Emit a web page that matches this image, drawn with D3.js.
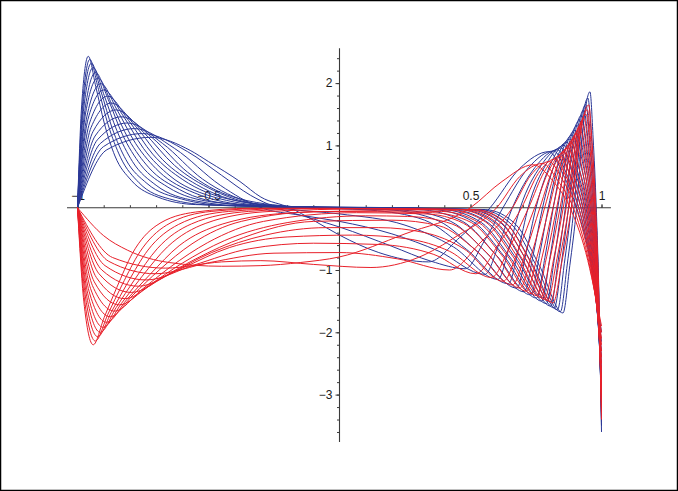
<!DOCTYPE html>
<html>
<head>
<meta charset="utf-8">
<script src="https://cdn.jsdelivr.net/npm/d3@7"></script>
<style>
  html, body { margin: 0; padding: 0; background: #fff; }
  svg { display: block; }
  .tick text { font-family: "Liberation Sans", Arial, Helvetica, sans-serif; font-size: 12px; fill: #1a1a1a; }
</style>
</head>
<body>
<script>
// blue family, sharpest first: [x, y] points
var blueCurves = [
  [[-1,0],[-0.984,1.65],[-0.959,2.43],[-0.930,1.94],[-0.898,1.36],[-0.857,0.83],[-0.795,0.44],[-0.693,0.17],[-0.549,0.05],[0.556,-0.03],[0.673,-0.27],[0.763,-0.93],[0.853,-1.69],[0.879,-0.93],[0.905,0],[0.930,1.30],[0.956,1.86],[0.968,1.12],[0.980,0],[0.990,-1.37],[1,-3.6]],
  [[-1,0],[-0.981,1.64],[-0.953,2.38],[-0.920,1.90],[-0.883,1.33],[-0.836,0.81],[-0.765,0.40],[-0.648,0.14],[-0.483,0.04],[0.536,-0.03],[0.657,-0.27],[0.750,-0.92],[0.843,-1.67],[0.869,-0.92],[0.895,0],[0.921,1.23],[0.948,1.76],[0.963,1.06],[0.978,0],[0.989,-1.33],[1,-3.5]],
  [[-1,0],[-0.979,1.62],[-0.947,2.32],[-0.910,1.86],[-0.868,1.28],[-0.815,0.77],[-0.735,0.39],[-0.603,0.14],[-0.417,0.03],[0.512,-0.03],[0.638,-0.26],[0.735,-0.90],[0.832,-1.64],[0.858,-0.90],[0.885,0],[0.912,1.16],[0.940,1.66],[0.957,1.00],[0.975,0],[0.987,-1.29],[1,-3.4]],
  [[-1,0],[-0.976,1.60],[-0.940,2.25],[-0.898,1.80],[-0.850,1.24],[-0.790,0.74],[-0.700,0.36],[-0.550,0.11],[-0.340,0.02],[0.490,-0.03],[0.620,-0.26],[0.720,-0.89],[0.820,-1.61],[0.847,-0.89],[0.874,0],[0.903,1.10],[0.932,1.57],[0.952,0.94],[0.972,0],[0.986,-1.25],[1,-3.3]],
  [[-1,0],[-0.972,1.56],[-0.931,2.17],[-0.883,1.74],[-0.828,1.17],[-0.759,0.69],[-0.655,0.33],[-0.483,0.09],[-0.241,0.02],[0.459,-0.03],[0.596,-0.25],[0.701,-0.87],[0.806,-1.58],[0.834,-0.87],[0.862,0],[0.892,1.04],[0.923,1.48],[0.946,0.89],[0.969,0],[0.984,-1.22],[1,-3.2]],
  [[-1,0],[-0.969,1.52],[-0.922,2.08],[-0.867,1.64],[-0.805,1.10],[-0.727,0.64],[-0.610,0.29],[-0.415,0.06],[-0.142,0.01],[0.427,-0.03],[0.570,-0.25],[0.680,-0.85],[0.790,-1.54],[0.819,-0.85],[0.848,0],[0.881,0.98],[0.915,1.40],[0.940,0.84],[0.965,0],[0.982,-1.18],[1,-3.1]],
  [[-1,0],[-0.964,1.47],[-0.911,1.99],[-0.849,1.57],[-0.778,1.03],[-0.689,0.58],[-0.555,0.24],[-0.333,0.04],[0.050,0],[0.392,-0.03],[0.542,-0.24],[0.657,-0.83],[0.772,-1.50],[0.802,-0.83],[0.833,0],[0.870,0.92],[0.907,1.32],[0.934,0.79],[0.961,0],[0.980,-1.14],[1,-3.0]],
  [[-1,0],[-0.960,1.42],[-0.899,1.89],[-0.828,1.49],[-0.748,0.95],[-0.647,0.51],[-0.495,0.19],[-0.243,0.02],[0.356,-0.03],[0.512,-0.23],[0.632,-0.80],[0.752,-1.45],[0.784,-0.80],[0.816,0],[0.857,0.87],[0.898,1.24],[0.927,0.74],[0.957,0],[0.978,-1.10],[1,-2.9]],
  [[-1,0],[-0.954,1.36],[-0.885,1.79],[-0.805,1.40],[-0.713,0.86],[-0.598,0.45],[-0.425,0.14],[-0.138,0],[0.301,-0.03],[0.470,-0.22],[0.600,-0.77],[0.730,-1.40],[0.763,-0.77],[0.797,0],[0.843,0.82],[0.889,1.17],[0.920,0.70],[0.952,0],[0.976,-1.06],[1,-2.8]],
  [[-1,0],[-0.948,1.29],[-0.870,1.68],[-0.779,1.31],[-0.675,0.77],[-0.545,0.37],[-0.350,0.08],[-0.025,-0.01],[0.243,-0.04],[0.425,-0.22],[0.565,-0.74],[0.705,-1.35],[0.740,-0.74],[0.775,0],[0.827,0.77],[0.879,1.10],[0.913,0.66],[0.947,0],[0.973,-1.03],[1,-2.7]],
  [[-1,0],[-0.941,1.22],[-0.852,1.57],[-0.748,1.21],[-0.630,0.68],[-0.482,0.28],[-0.260,0.03],[0.180,-0.03],[0.377,-0.21],[0.527,-0.71],[0.677,-1.29],[0.713,-0.71],[0.750,0],[0.810,0.74],[0.869,1.05],[0.905,0.63],[0.941,0],[0.970,-0.99],[1,-2.6]],
  [[-1,0],[-0.933,1.15],[-0.832,1.46],[-0.714,1.12],[-0.580,0.57],[-0.412,0.18],[-0.160,0.01],[0.120,-0.04],[0.325,-0.20],[0.485,-0.67],[0.645,-1.22],[0.683,-0.67],[0.720,0],[0.789,0.70],[0.858,1.00],[0.897,0.60],[0.935,0],[0.968,-0.95],[1,-2.5]],
  [[-1,0],[-0.924,1.09],[-0.809,1.36],[-0.675,1.03],[-0.523,0.46],[-0.331,0.07],[-0.200,-0.02],[0,-0.10],[0.250,-0.28],[0.435,-0.63],[0.605,-1.15],[0.648,-0.63],[0.690,0],[0.768,0.67],[0.846,0.96],[0.887,0.58],[0.928,0],[0.964,-0.91],[1,-2.4]],
  [[-1,0],[-0.913,1.03],[-0.782,1.27],[-0.629,0.95],[-0.455,0.36],[-0.300,0],[-0.150,-0.12],[0,-0.22],[0.200,-0.42],[0.380,-0.70],[0.555,-1.07],[0.608,-0.59],[0.660,0],[0.747,0.65],[0.833,0.93],[0.877,0.56],[0.921,0],[0.961,-0.87],[1,-2.3]],
  [[-1,0],[-0.901,0.98],[-0.752,1.19],[-0.580,0.90],[-0.450,0.52],[-0.340,0.20],[-0.240,0],[-0.100,-0.18],[0,-0.31],[0.200,-0.62],[0.350,-0.86],[0.480,-0.98],[0.552,-0.54],[0.624,0],[0.721,0.64],[0.818,0.91],[0.866,0.55],[0.913,0],[0.957,-0.82],[1,-2.15]],
  [[-1,0],[-0.888,0.93],[-0.720,1.13],[-0.570,0.92],[-0.500,0.74],[-0.380,0.42],[-0.300,0.17],[-0.190,0],[-0.100,-0.20],[0,-0.44],[0.150,-0.72],[0.340,-0.87],[0.458,-0.48],[0.575,0],[0.688,0.63],[0.800,0.90],[0.853,0.54],[0.905,0],[0.953,-0.76],[1,-2.0]]
];

// red family, sharpest first
var redCurves = [
  [[-1,0],[-0.976,-1.50],[-0.940,-2.20],[-0.898,-1.76],[-0.850,-1.28],[-0.790,-0.73],[-0.700,-0.29],[-0.550,-0.07],[-0.340,-0.01],[0.518,-0.03],[0.635,-0.24],[0.725,-0.84],[0.815,-1.53],[0.850,-0.84],[0.885,0],[0.918,1.16],[0.951,1.65],[0.965,0.99],[0.978,0],[0.989,-1.29],[1,-3.4]],
  [[-1,0],[-0.973,-1.48],[-0.932,-2.14],[-0.884,-1.71],[-0.830,-1.24],[-0.762,-0.71],[-0.660,-0.28],[-0.490,-0.06],[-0.250,-0.01],[0.498,-0.03],[0.619,-0.24],[0.712,-0.83],[0.805,-1.51],[0.840,-0.83],[0.875,0],[0.911,1.10],[0.946,1.57],[0.961,0.94],[0.975,0],[0.988,-1.25],[1,-3.3]],
  [[-1,0],[-0.969,-1.45],[-0.923,-2.07],[-0.869,-1.66],[-0.808,-1.20],[-0.731,-0.68],[-0.615,-0.27],[-0.423,-0.06],[-0.153,-0.01],[0.474,-0.03],[0.600,-0.24],[0.697,-0.82],[0.794,-1.49],[0.830,-0.82],[0.865,0],[0.903,1.05],[0.941,1.50],[0.957,0.90],[0.972,0],[0.986,-1.22],[1,-3.2]],
  [[-1,0],[-0.965,-1.42],[-0.913,-2.00],[-0.852,-1.60],[-0.783,-1.16],[-0.696,-0.66],[-0.565,-0.26],[-0.348,-0.06],[-0.050,-0.01],[0.452,-0.03],[0.582,-0.24],[0.682,-0.81],[0.782,-1.47],[0.818,-0.81],[0.854,0],[0.894,1.00],[0.934,1.43],[0.951,0.86],[0.968,0],[0.984,-1.18],[1,-3.1]],
  [[-1,0],[-0.961,-1.38],[-0.902,-1.92],[-0.833,-1.54],[-0.755,-1.11],[-0.657,-0.63],[-0.510,-0.25],[-0.265,-0.06],[0.100,-0.02],[0.421,-0.04],[0.558,-0.23],[0.663,-0.79],[0.768,-1.44],[0.805,-0.79],[0.842,0],[0.884,0.95],[0.926,1.35],[0.945,0.81],[0.964,0],[0.982,-1.14],[1,-3.0]],
  [[-1,0],[-0.956,-1.34],[-0.889,-1.84],[-0.811,-1.47],[-0.723,-1.07],[-0.612,-0.61],[-0.445,-0.26],[-0.168,-0.08],[0.150,-0.05],[0.389,-0.06],[0.532,-0.24],[0.642,-0.78],[0.752,-1.41],[0.791,-0.78],[0.829,0],[0.874,0.89],[0.918,1.27],[0.939,0.76],[0.960,0],[0.980,-1.10],[1,-2.9]],
  [[-1,0],[-0.950,-1.30],[-0.875,-1.75],[-0.788,-1.40],[-0.688,-1.00],[-0.563,-0.58],[-0.375,-0.22],[-0.063,-0.06],[0.354,-0.08],[0.504,-0.24],[0.619,-0.76],[0.734,-1.38],[0.775,-0.76],[0.815,0],[0.862,0.83],[0.908,1.19],[0.932,0.71],[0.955,0],[0.978,-1.06],[1,-2.8]],
  [[-1,0],[-0.943,-1.25],[-0.858,-1.66],[-0.759,-1.33],[-0.645,-0.95],[-0.503,-0.56],[-0.290,-0.22],[0.065,-0.08],[0.330,-0.10],[0.473,-0.25],[0.593,-0.74],[0.713,-1.34],[0.757,-0.74],[0.800,0],[0.849,0.78],[0.898,1.11],[0.924,0.67],[0.950,0],[0.975,-1.03],[1,-2.7]],
  [[-1,0],[-0.936,-1.19],[-0.840,-1.56],[-0.728,-1.25],[-0.600,-0.89],[-0.440,-0.53],[-0.200,-0.24],[0.100,-0.13],[0.260,-0.14],[0.429,-0.26],[0.559,-0.71],[0.689,-1.29],[0.736,-0.71],[0.783,0],[0.835,0.72],[0.886,1.03],[0.915,0.62],[0.944,0],[0.972,-0.99],[1,-2.6]],
  [[-1,0],[-0.928,-1.12],[-0.819,-1.46],[-0.692,-1.16],[-0.548,-0.82],[-0.367,-0.48],[-0.100,-0.22],[0.200,-0.20],[0.380,-0.29],[0.520,-0.68],[0.660,-1.24],[0.713,-0.68],[0.765,0],[0.819,0.67],[0.873,0.96],[0.905,0.58],[0.937,0],[0.969,-0.95],[1,-2.5]],
  [[-1,0],[-0.918,-1.06],[-0.795,-1.36],[-0.652,-1.07],[-0.488,-0.72],[-0.283,-0.44],[-0.050,-0.32],[0.150,-0.32],[0.325,-0.40],[0.475,-0.66],[0.625,-1.18],[0.685,-0.65],[0.745,0],[0.802,0.62],[0.858,0.89],[0.894,0.53],[0.930,0],[0.965,-0.91],[1,-2.4]],
  [[-1,0],[-0.907,-1.00],[-0.768,-1.26],[-0.606,-0.98],[-0.420,-0.64],[-0.200,-0.47],[0.050,-0.44],[0.260,-0.50],[0.420,-0.70],[0.580,-1.12],[0.651,-0.62],[0.722,0],[0.782,0.58],[0.841,0.83],[0.882,0.50],[0.922,0],[0.961,-0.87],[1,-2.3]],
  [[-1,0],[-0.895,-0.93],[-0.738,-1.16],[-0.555,-0.92],[-0.345,-0.66],[-0.100,-0.57],[0.150,-0.59],[0.360,-0.75],[0.520,-1.06],[0.608,-0.58],[0.695,0],[0.759,0.55],[0.822,0.78],[0.868,0.47],[0.913,0],[0.957,-0.84],[1,-2.2]],
  [[-1,0],[-0.881,-0.86],[-0.703,-1.06],[-0.495,-0.88],[-0.250,-0.73],[0,-0.72],[0.220,-0.82],[0.420,-1.00],[0.540,-0.55],[0.660,0],[0.730,0.52],[0.800,0.74],[0.852,0.44],[0.903,0],[0.952,-0.80],[1,-2.1]],
  [[-1,0],[-0.866,-0.80],[-0.665,-0.97],[-0.450,-0.87],[-0.300,-0.85],[-0.100,-0.91],[0.120,-0.96],[0.300,-0.80],[0.450,-0.45],[0.600,0],[0.688,0.50],[0.775,0.71],[0.834,0.43],[0.892,0],[0.946,-0.76],[1,-2.0]],
  [[-1,0],[-0.900,-0.45],[-0.810,-0.68],[-0.650,-0.88],[-0.450,-0.94],[-0.300,-0.93],[-0.150,-0.88],[0,-0.79],[0.250,-0.42],[0.500,0],[0.620,0.42],[0.740,0.69],[0.810,0.45],[0.880,0],[0.940,-0.72],[1,-1.9]]
];

var xMajor = [-1, -0.5, 0.5, 1];
var xLabels = ['\u22121', '\u22120.5', '0.5', '1'];
var xMinor = d3.range(-10, 11).map(function(i) { return i / 10; });
var yMajor = [-3, -2, -1, 1, 2];
var yLabels = ['\u22123', '\u22122', '\u22121', '1', '2'];
var yMinor = d3.range(-18, 13).map(function(i) { return i / 5; });

var width = 678,
    height = 491;

var svg = d3.select('body').append('svg')
    .attr('width', width)
    .attr('height', height);

svg.append('rect')
    .attr('x', 0.5).attr('y', 0.5)
    .attr('width', width - 1).attr('height', height - 1)
    .attr('fill', '#fff')
    .attr('stroke', '#000')
    .attr('stroke-width', 1.5);

var x = d3.scaleLinear().domain([-1, 1]).range([77.5, 601.5]);
var y = d3.scaleLinear().domain([-3, 2]).range([394.6, 83.1]);

var line = d3.line()
    .x(function(d) { return x(d[0]); })
    .y(function(d) { return y(d[1]); })
    .curve(d3.curveMonotoneX);

// axes lines
var axisColor = '#3a3a3a';
svg.append('line')
    .attr('x1', x(-1.04)).attr('x2', x(1.036))
    .attr('y1', y(0)).attr('y2', y(0))
    .attr('stroke', axisColor).attr('stroke-width', 1.1);
svg.append('line')
    .attr('x1', x(0)).attr('x2', x(0))
    .attr('y1', y(2.56)).attr('y2', y(-3.76))
    .attr('stroke', axisColor).attr('stroke-width', 1.1);

// x ticks (upward) and labels
svg.append('g')
    .attr('transform', 'translate(0,' + y(0) + ')')
    .attr('color', axisColor)
    .call(d3.axisTop(x).tickValues(xMinor.filter(function(d) { return d !== 0; })).tickSize(2.5).tickFormat(''))
    .call(function(g) { g.select('.domain').remove(); });
svg.append('g')
    .attr('transform', 'translate(0,' + y(0) + ')')
    .attr('color', axisColor)
    .call(d3.axisTop(x).tickValues(xMajor).tickSize(3.5).tickPadding(4)
        .tickFormat(function(d) { return xLabels[xMajor.indexOf(d)]; }))
    .call(function(g) { g.select('.domain').remove(); });

// y ticks (leftward) and labels
svg.append('g')
    .attr('transform', 'translate(' + x(0) + ',0)')
    .attr('color', axisColor)
    .call(d3.axisLeft(y).tickValues(yMinor.filter(function(d) { return d !== 0; })).tickSize(2.5).tickFormat(''))
    .call(function(g) { g.select('.domain').remove(); });
svg.append('g')
    .attr('transform', 'translate(' + x(0) + ',0)')
    .attr('color', axisColor)
    .call(d3.axisLeft(y).tickValues(yMajor).tickSize(4).tickPadding(3)
        .tickFormat(function(d) { return yLabels[yMajor.indexOf(d)]; }))
    .call(function(g) { g.select('.domain').remove(); });

svg.selectAll('.tick text').attr('fill', '#1a1a1a');

// curve families
svg.append('g')
    .selectAll('path')
    .data(blueCurves)
    .join('path')
    .attr('d', line)
    .attr('fill', 'none')
    .attr('stroke', '#2a3796')
    .attr('stroke-width', 1);

svg.append('g')
    .selectAll('path')
    .data(redCurves)
    .join('path')
    .attr('d', line)
    .attr('fill', 'none')
    .attr('stroke', '#e8202a')
    .attr('stroke-width', 1);
</script>
</body>
</html>
